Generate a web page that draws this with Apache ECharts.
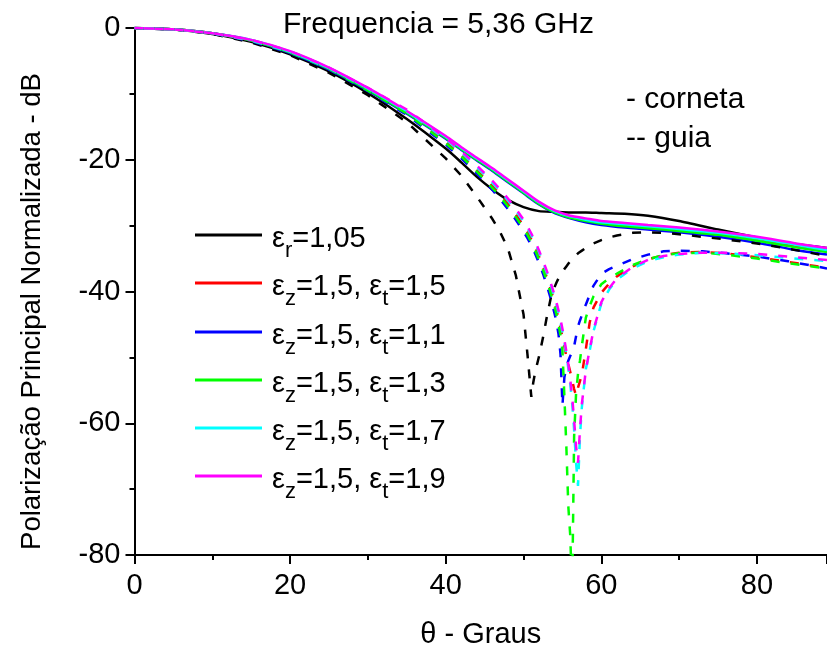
<!DOCTYPE html>
<html><head><meta charset="utf-8">
<script src="https://cdn.jsdelivr.net/npm/echarts@6/dist/echarts.min.js"></script>
<style>html,body{margin:0;padding:0;background:#fff}#c{width:827px;height:654px}</style>
</head><body><div id="c"></div>
<script>
// ---- data ----
const thetaSolid = [0,5,10,15,20,25,30,35,40,42,44,46,48,50,52,54,56,58,60,63,66,70,75,80,85,89];
const solidEr105 = [0,-0.2,-0.9,-2.1,-4.0,-6.6,-9.9,-13.8,-18.3,-20.4,-22.6,-24.5,-26.1,-27.2,-27.8,-27.9,-28.0,-28.0,-28.1,-28.2,-28.5,-29.3,-30.6,-31.8,-32.8,-33.4];
const solidEt15 = [0,-0.2,-0.8,-1.9,-3.7,-6.2,-9.3,-12.8,-16.6,-18.3,-19.9,-21.5,-23.2,-24.9,-26.6,-27.9,-28.7,-29.2,-29.6,-30.0,-30.3,-30.7,-31.3,-32.2,-33.2,-33.9];
const solidEt11 = [0,-0.2,-0.8,-1.9,-3.8,-6.3,-9.5,-13.0,-16.8,-18.5,-20.1,-21.7,-23.4,-25.1,-26.8,-28.1,-28.9,-29.5,-29.9,-30.3,-30.6,-31.0,-31.7,-32.6,-33.7,-34.4];
const solidEt13 = [0,-0.2,-0.8,-1.9,-3.7,-6.2,-9.4,-12.9,-16.7,-18.4,-20.0,-21.6,-23.3,-25.0,-26.7,-28.0,-28.8,-29.3,-29.7,-30.1,-30.4,-30.8,-31.4,-32.3,-33.3,-34.0];
const solidEt17 = [0,-0.2,-0.8,-1.8,-3.6,-6.1,-9.2,-12.7,-16.5,-18.2,-19.8,-21.4,-23.1,-24.8,-26.5,-27.8,-28.6,-29.1,-29.5,-29.8,-30.1,-30.5,-31.1,-31.9,-32.9,-33.7];
const solidEt19 = [0,-0.2,-0.8,-1.8,-3.5,-6.0,-9.1,-12.6,-16.4,-18.1,-19.7,-21.3,-23.0,-24.7,-26.4,-27.7,-28.5,-28.9,-29.3,-29.6,-29.9,-30.3,-30.9,-31.7,-32.7,-33.4];

const thetaDash = [0,5,10,15,20,25,30,35,40,42,44,46,47,48,49,50,50.5,51,51.25,51.5,52,52.5,53,53.5,54,54.25,54.5,54.75,55,55.25,55.5,55.75,56,56.25,56.5,56.75,57,57.25,57.5,58,58.5,59,60,61,62,64,66,68,70,73,76,80,84,89];
const dashEr105 = [0,-0.2,-0.9,-2.2,-4.1,-6.8,-10.2,-14.3,-19.8,-22.4,-25.6,-29.0,-31.0,-33.5,-37.5,-43.5,-49.5,-56.0,-53.8,-52.2,-49.8,-47.0,-43.8,-41.0,-39.3,-38.6,-38.0,-37.5,-37.0,-36.6,-36.2,-35.8,-35.4,-35.1,-34.8,-34.5,-34.2,-34.0,-33.8,-33.4,-33.0,-32.7,-32.2,-31.8,-31.5,-31.1,-31.0,-31.1,-31.3,-31.7,-32.1,-32.7,-33.5,-34.6];
const dashEt15 = [0,-0.2,-0.8,-1.9,-3.7,-6.2,-9.4,-12.9,-17.3,-19.3,-21.6,-24.0,-25.3,-26.7,-28.3,-30.0,-31.0,-32.1,-32.7,-33.3,-34.7,-36.2,-37.9,-39.7,-41.7,-42.9,-44.1,-45.5,-47.0,-48.4,-49.8,-51.0,-52.2,-53.5,-54.8,-55.8,-54.6,-53.6,-52.6,-48.8,-44.7,-42.4,-40.2,-38.8,-37.7,-36.2,-35.1,-34.5,-34.1,-34.0,-34.2,-34.8,-35.5,-36.4];
const dashEt11 = [0,-0.2,-0.8,-2.0,-3.8,-6.3,-9.6,-13.2,-17.7,-19.8,-22.1,-24.6,-26.0,-27.5,-29.1,-30.9,-31.9,-33.0,-33.6,-34.3,-35.7,-37.3,-39.1,-41.1,-43.4,-44.8,-46.5,-49.5,-57.3,-53.0,-51.5,-50.5,-49.8,-49.2,-48.3,-46.8,-45.3,-44.4,-43.6,-42.0,-40.5,-39.1,-37.3,-36.6,-36.1,-35.1,-34.4,-33.9,-33.8,-33.9,-34.2,-34.7,-35.4,-36.5];
const dashEt13 = [0,-0.2,-0.8,-1.9,-3.7,-6.2,-9.5,-13.0,-17.5,-19.5,-21.8,-24.3,-25.6,-27.1,-28.7,-30.4,-31.4,-32.5,-33.1,-33.8,-35.2,-36.7,-38.4,-40.3,-42.4,-43.6,-45.0,-46.7,-49.0,-56.0,-63.5,-72.5,-77.0,-86.0,-62.0,-55.5,-52.5,-50.5,-48.2,-44.0,-42.2,-40.7,-38.9,-38.0,-37.3,-36.0,-35.1,-34.5,-34.2,-34.1,-34.4,-35.0,-35.7,-36.5];
const dashEt17 = [0,-0.2,-0.8,-1.9,-3.6,-6.1,-9.2,-12.6,-16.9,-18.9,-21.1,-23.5,-24.8,-26.2,-27.7,-29.4,-30.4,-31.5,-32.1,-32.7,-34.1,-35.6,-37.2,-39.0,-41.0,-42.1,-43.3,-44.7,-46.2,-47.8,-49.6,-51.6,-54.0,-57.0,-61.0,-66.0,-69.5,-62.0,-57.5,-51.8,-49.0,-46.0,-41.8,-39.7,-38.2,-36.5,-35.4,-34.8,-34.4,-34.1,-34.2,-34.5,-34.9,-35.4];
const dashEt19 = [0,-0.2,-0.8,-1.8,-3.5,-6.0,-9.1,-12.4,-16.7,-18.7,-20.9,-23.2,-24.5,-25.9,-27.4,-29.1,-30.1,-31.2,-31.8,-32.4,-33.8,-35.3,-36.9,-38.7,-40.6,-41.7,-42.9,-44.2,-45.7,-47.3,-49.1,-51.0,-53.3,-56.0,-59.5,-63.5,-66.0,-61.0,-57.0,-52.0,-48.8,-45.8,-41.6,-39.5,-38.0,-36.3,-35.2,-34.6,-34.3,-34.1,-34.1,-34.3,-34.7,-35.2];

const seriesNames = ['er105','et15','et11','et13','et17','et19'];
const seriesColors = ['#000000','#ff0000','#0000ff','#00ff00','#00ffff','#ff00ff'];
const legendText = {
  er105: '{e|ε}{s|r}{m|=1,05}',
  et15: '{e|ε}{s|z}{m|=1,5, ε}{s|t}{m|=1,5}',
  et11: '{e|ε}{s|z}{m|=1,5, ε}{s|t}{m|=1,1}',
  et13: '{e|ε}{s|z}{m|=1,5, ε}{s|t}{m|=1,3}',
  et17: '{e|ε}{s|z}{m|=1,5, ε}{s|t}{m|=1,7}',
  et19: '{e|ε}{s|z}{m|=1,5, ε}{s|t}{m|=1,9}'
};
const titleText = 'Frequencia = 5,36 GHz';
const noteLines = ['- corneta', '-- guia'];
const xName = 'θ - Graus';
const yName = 'Polarização Principal Normalizada - dB';
const xTicks = {min: 0, max: 89, interval: 20};
const yTicks = {min: -80, max: 0, interval: 20};

// ---- chart ----
const FONT = "'Liberation Sans', Arial, sans-serif";
const solids = [solidEr105, solidEt15, solidEt11, solidEt13, solidEt17, solidEt19];
const dashes = [dashEr105, dashEt15, dashEt11, dashEt13, dashEt17, dashEt19];
const pairs = (xs, ys) => xs.map((x, i) => [x, ys[i]]);

const series = [];
solids.forEach((ys, i) => series.push({
  name: seriesNames[i], type: 'line', data: pairs(thetaSolid, ys),
  showSymbol: false, smooth: 0.2, clip: true,
  lineStyle: {color: seriesColors[i], width: 2.5, type: 'solid'},
  itemStyle: {color: seriesColors[i]}
}));
dashes.forEach((ys, i) => series.push({
  name: 'guia_' + seriesNames[i], type: 'line', data: pairs(thetaDash, ys),
  showSymbol: false, smooth: false, clip: true,
  lineStyle: {color: seriesColors[i], width: 2.5, type: [9, 11]},
  itemStyle: {color: seriesColors[i]}
}));

const axisCommon = {
  axisLine: {show: true, onZero: false, lineStyle: {color: '#000', width: 2}},
  axisTick: {show: true, inside: false, length: 9, lineStyle: {color: '#000', width: 2}},
  minorTick: {show: true, splitNumber: 2, length: 5, lineStyle: {color: '#000', width: 2}},
  splitLine: {show: false},
  axisLabel: {color: '#000', fontFamily: FONT, fontSize: 29}
};

const rich = {
  e: {fontSize: 29, fontFamily: FONT, color: '#000', lineHeight: 30, padding: [4, 0, 0, 5], verticalAlign: 'top'},
  m: {fontSize: 29, fontFamily: FONT, color: '#000', lineHeight: 30, padding: [4, 0, 0, 0], verticalAlign: 'top'},
  s: {fontSize: 22, fontFamily: FONT, color: '#000', lineHeight: 22, padding: [20, 0, 0, 0], verticalAlign: 'top'}
};
const legendRowsY = [236, 284, 333, 381, 429, 477];
const legends = seriesNames.map((n, i) => ({
  data: [n], orient: 'vertical', left: 195, top: legendRowsY[i] - 16, padding: 0,
  itemWidth: 67, itemHeight: 3, icon: 'rect',
  formatter: name => legendText[name],
  textStyle: {color: '#000', fontFamily: FONT, rich: rich}
}));

const chart = echarts.init(document.getElementById('c'), null, {renderer: 'canvas'});
chart.setOption({
  animation: false,
  backgroundColor: '#fff',
  title: {
    text: titleText, left: 278, top: 5,
    textStyle: {fontFamily: FONT, fontSize: 30, fontWeight: 'normal', color: '#000'}
  },
  graphic: [
    {type: 'text', left: 626, top: 85, style: {text: noteLines[0], font: "30px 'Liberation Sans', Arial", fill: '#000'}},
    {type: 'text', left: 626, top: 124, style: {text: noteLines[1], font: "30px 'Liberation Sans', Arial", fill: '#000'}}
  ],
  legend: legends,
  grid: {left: 134.5, top: 28, right: 0, bottom: 98, containLabel: false},
  xAxis: Object.assign({}, axisCommon, {
    type: 'value', min: xTicks.min, max: xTicks.max, interval: xTicks.interval,
    name: xName, nameLocation: 'middle', nameGap: 65,
    nameTextStyle: {fontFamily: FONT, fontSize: 29, color: '#000'},
    axisLabel: Object.assign({}, axisCommon.axisLabel, {margin: 16, showMaxLabel: false})
  }),
  yAxis: Object.assign({}, axisCommon, {
    type: 'value', min: yTicks.min, max: yTicks.max, interval: yTicks.interval,
    name: yName, nameLocation: 'middle', nameGap: 88,
    nameTextStyle: {fontFamily: FONT, fontSize: 27.5, color: '#000', padding: [0, 40, 0, 0]},
    axisLabel: Object.assign({}, axisCommon.axisLabel, {margin: 14})
  }),
  series: series
});
</script>
</body></html>
